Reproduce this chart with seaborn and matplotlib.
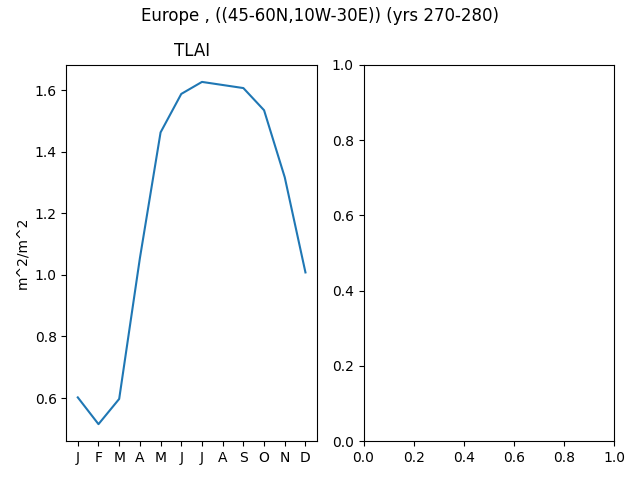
import pandas as pd
import seaborn as sns
import matplotlib.pyplot as plt

months = ["J", "F", "M", "A", "M", "J", "J", "A", "S", "O", "N", "D"]
tlai = [0.602, 0.515, 0.597, 1.054, 1.463, 1.588, 1.627, 1.617, 1.607, 1.535, 1.317, 1.008]

df = pd.DataFrame({"month": range(len(months)), "tlai": tlai})

fig, axes = plt.subplots(1, 2, figsize=(6.4, 4.8), dpi=100)

# TLAI seasonal cycle
sns.lineplot(x="month", y="tlai", data=df, ax=axes[0])
axes[0].set_title("TLAI")
axes[0].set_xlabel("")
axes[0].set_ylabel("m^2/m^2")
axes[0].set_xticks(range(len(months)))
axes[0].set_xticklabels(months)

fig.suptitle("Europe , ((45-60N,10W-30E)) (yrs 270-280)", y=0.985)
fig.tight_layout()
fig.subplots_adjust(top=0.865)
fig.savefig("out.png")
